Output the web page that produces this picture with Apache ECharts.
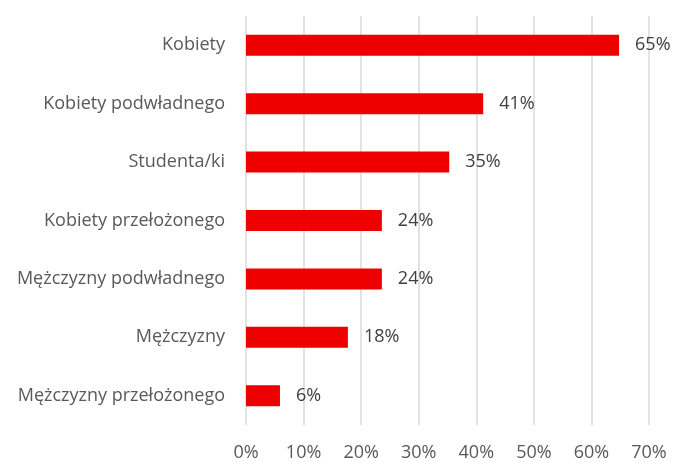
<!DOCTYPE html>
<html>
<head>
<meta charset="utf-8">
<script src="https://cdn.jsdelivr.net/npm/echarts@6/dist/echarts.min.js"></script>
<style>
  html, body { margin: 0; padding: 0; background: #fff; }
  #chart { width: 673px; height: 462px; }
</style>
</head>
<body>
<div id="chart"></div>
<script>
const categories = [
  'Kobiety',
  'Kobiety podwładnego',
  'Studenta/ki',
  'Kobiety przełożonego',
  'Mężczyzny podwładnego',
  'Mężczyzny',
  'Mężczyzny przełożonego'
]
const values = [64.8, 41.2, 35.3, 23.6, 23.6, 17.7, 5.9]
const labels = ['65%', '41%', '35%', '24%', '24%', '18%', '6%']
const xTicks = [0, 10, 20, 30, 40, 50, 60, 70]

const font = 'Open Sans, Noto Sans, sans-serif'

const chart = echarts.init(document.getElementById('chart'))
chart.setOption({
  animation: false,
  grid: { left: 246, right: 24, top: 16, bottom: 36, containLabel: false },
  xAxis: {
    type: 'value',
    min: xTicks[0],
    max: xTicks[xTicks.length - 1],
    interval: 10,
    axisLine: { show: false },
    axisTick: { show: false },
    axisLabel: {
      formatter: v => v + '%',
      color: '#595959',
      fontFamily: font,
      fontSize: 18,
      margin: 19
    },
    splitLine: { show: true, lineStyle: { color: '#d9d9d9', width: 1.5 } }
  },
  yAxis: {
    type: 'category',
    data: categories,
    inverse: true,
    axisLine: { show: false },
    axisTick: { show: false },
    axisLabel: {
      color: '#595959',
      fontFamily: font,
      fontSize: 18,
      margin: 21
    }
  },
  series: [{
    type: 'bar',
    data: values,
    barWidth: 21,
    itemStyle: { color: '#ee0000' },
    label: {
      show: true,
      position: 'right',
      distance: 16,
      formatter: p => labels[p.dataIndex],
      color: '#404040',
      fontFamily: font,
      fontSize: 18
    }
  }]
})
</script>
</body>
</html>
